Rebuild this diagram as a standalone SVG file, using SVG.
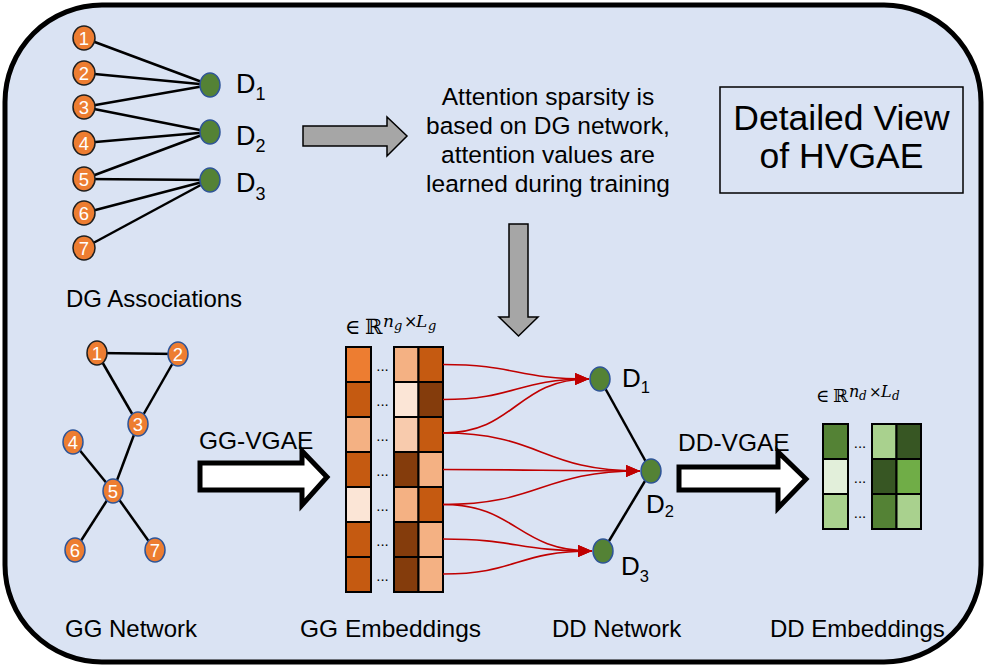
<svg xmlns="http://www.w3.org/2000/svg" width="985" height="666" viewBox="0 0 985 666">
<defs>
<style>
.t{font-family:"Liberation Sans",Arial,sans-serif;fill:#000}
.lbl{font-size:24px}
.num{font-family:"Liberation Sans",Arial,sans-serif;font-size:18.5px;fill:#fff;text-anchor:middle}
.on{fill:#ed7d31;stroke:#1f1f1f;stroke-width:1.5}
.ob{fill:#ed7d31;stroke:#2f5597;stroke-width:1.5}
.gn{fill:#548235;stroke:#2f5597;stroke-width:1.5}
.e{stroke:#000;stroke-width:2.5;fill:none}
.cell{stroke:#000;stroke-width:2}
.dots{font-family:"Liberation Sans",Arial,sans-serif;font-size:15px;fill:#000;text-anchor:middle}
.red{stroke:#c00000;stroke-width:1.6;fill:none;marker-end:url(#ah)}
.math{font-family:"DejaVu Serif",serif;fill:#000}
.it{font-family:"DejaVu Serif",serif;font-style:italic}
.up{font-family:"DejaVu Serif",serif;font-style:normal}
</style>
<marker id="ah" markerUnits="userSpaceOnUse" markerWidth="14" markerHeight="12" refX="14" refY="6" orient="auto">
<path d="M0,0 L14,6 L0,12 z" fill="#c00000"/>
</marker>
</defs>

<rect id="frame" x="5" y="5" width="976" height="657" rx="97" ry="97" fill="#dae3f3" stroke="#000" stroke-width="5"/>

<g id="dg-associations">
<g class="edges">
<line class="e" x1="84" y1="38" x2="210" y2="85"/>
<line class="e" x1="84" y1="73" x2="210" y2="85"/>
<line class="e" x1="84" y1="107" x2="210" y2="85"/>
<line class="e" x1="84" y1="107" x2="210" y2="132"/>
<line class="e" x1="84" y1="143" x2="210" y2="132"/>
<line class="e" x1="84" y1="179" x2="210" y2="132"/>
<line class="e" x1="84" y1="179" x2="210" y2="180"/>
<line class="e" x1="84" y1="213" x2="210" y2="180"/>
<line class="e" x1="84" y1="248" x2="210" y2="180"/>
</g>
<g id="dg-g1"><ellipse class="on" cx="84" cy="38" rx="11" ry="12"/><text class="num" x="84" y="44.5">1</text></g>
<g id="dg-g2"><ellipse class="on" cx="84" cy="73" rx="11" ry="12"/><text class="num" x="84" y="79.5">2</text></g>
<g id="dg-g3"><ellipse class="on" cx="84" cy="107" rx="11" ry="12"/><text class="num" x="84" y="113.5">3</text></g>
<g id="dg-g4"><ellipse class="on" cx="84" cy="143" rx="11" ry="12"/><text class="num" x="84" y="149.5">4</text></g>
<g id="dg-g5"><ellipse class="on" cx="84" cy="179" rx="11" ry="12"/><text class="num" x="84" y="185.5">5</text></g>
<g id="dg-g6"><ellipse class="on" cx="84" cy="213" rx="11" ry="12"/><text class="num" x="84" y="219.5">6</text></g>
<g id="dg-g7"><ellipse class="on" cx="84" cy="248" rx="11" ry="12"/><text class="num" x="84" y="254.5">7</text></g>
<g id="dg-d1"><ellipse class="gn" cx="210" cy="85" rx="10" ry="12"/><text class="t" x="236" y="93" font-size="27">D<tspan font-size="18" dy="7">1</tspan></text></g>
<g id="dg-d2"><ellipse class="gn" cx="210" cy="132" rx="10" ry="12"/><text class="t" x="236" y="145" font-size="27">D<tspan font-size="18" dy="7">2</tspan></text></g>
<g id="dg-d3"><ellipse class="gn" cx="210" cy="180" rx="10" ry="12"/><text class="t" x="236" y="192" font-size="27">D<tspan font-size="18" dy="8">3</tspan></text></g>
<text class="t lbl" x="66" y="307">DG Associations</text>
</g>

<g id="attention-note">
<polygon points="303,126 387,126 387,117 407,136 387,156 387,146 303,146" fill="#a6a6a6" stroke="#000" stroke-width="1.5"/>
<text class="t" font-size="24.5" text-anchor="middle"><tspan x="548" y="105">Attention sparsity is</tspan><tspan x="548" y="134">based on DG network,</tspan><tspan x="548" y="163">attention values are</tspan><tspan x="548" y="192">learned during training</tspan></text>
<polygon points="509,224 528,224 528,317 538,317 518.5,336 499,317 509,317" fill="#a6a6a6" stroke="#000" stroke-width="1.5"/>
</g>

<g id="title-box">
<rect x="720" y="87" width="243" height="106" fill="none" stroke="#000" stroke-width="1.5"/>
<text class="t" font-size="35.5" text-anchor="middle"><tspan x="841.5" y="130">Detailed View</tspan><tspan x="841.5" y="168">of HVGAE</tspan></text>
</g>

<g id="gg-network">
<g class="edges">
<line class="e" x1="97" y1="353" x2="178" y2="354"/>
<line class="e" x1="97" y1="353" x2="138" y2="424"/>
<line class="e" x1="178" y1="354" x2="138" y2="424"/>
<line class="e" x1="138" y1="424" x2="113" y2="491"/>
<line class="e" x1="73" y1="442" x2="113" y2="491"/>
<line class="e" x1="113" y1="491" x2="75" y2="550"/>
<line class="e" x1="113" y1="491" x2="155" y2="550"/>
</g>
<g id="gg-1"><ellipse class="on" cx="97" cy="353" rx="10" ry="12"/><text class="num" x="97" y="359.5">1</text></g>
<g id="gg-2"><ellipse class="ob" cx="178" cy="354" rx="10" ry="12"/><text class="num" x="178" y="360.5">2</text></g>
<g id="gg-3"><ellipse class="ob" cx="138" cy="424" rx="10" ry="12"/><text class="num" x="138" y="430.5">3</text></g>
<g id="gg-4"><ellipse class="ob" cx="73" cy="442" rx="10" ry="12"/><text class="num" x="73" y="448.5">4</text></g>
<g id="gg-5"><ellipse class="ob" cx="113" cy="491" rx="10" ry="12"/><text class="num" x="113" y="497.5">5</text></g>
<g id="gg-6"><ellipse class="ob" cx="75" cy="550" rx="10" ry="12"/><text class="num" x="75" y="556.5">6</text></g>
<g id="gg-7"><ellipse class="ob" cx="155" cy="550" rx="10" ry="12"/><text class="num" x="155" y="556.5">7</text></g>
<text class="t lbl" x="65" y="637">GG Network</text>
</g>

<g id="gg-vgae">
<polygon points="200,463 302,463 302,451 327,477 302,505 302,490 200,490" fill="#fff" stroke="#000" stroke-width="5"/>
<text class="t" x="199" y="449" font-size="24.5">GG-VGAE</text>
</g>

<g id="gg-embeddings">
<text class="math" font-size="21"><tspan x="345" y="334">∈</tspan><tspan x="365" y="334">ℝ</tspan><tspan class="it" font-size="17" x="383" y="327">n</tspan><tspan class="it" font-size="13" x="394" y="330">g</tspan><tspan class="up" font-size="16" x="404" y="327">×</tspan><tspan class="it" font-size="17" x="416" y="327">L</tspan><tspan class="it" font-size="13" x="428" y="330">g</tspan></text>
<g id="gg-col1">
<rect class="cell" x="346" y="347" width="25" height="35" fill="#ed7d31"/>
<rect class="cell" x="346" y="382" width="25" height="35" fill="#c55a11"/>
<rect class="cell" x="346" y="417" width="25" height="35" fill="#f4b183"/>
<rect class="cell" x="346" y="452" width="25" height="35" fill="#c55a11"/>
<rect class="cell" x="346" y="487" width="25" height="35" fill="#fbe5d6"/>
<rect class="cell" x="346" y="522" width="25" height="35" fill="#c55a11"/>
<rect class="cell" x="346" y="557" width="25" height="35" fill="#c55a11"/>
</g>
<g id="gg-col2">
<rect class="cell" x="394" y="347" width="24.5" height="35" fill="#f4b183"/>
<rect class="cell" x="394" y="382" width="24.5" height="35" fill="#fbe5d6"/>
<rect class="cell" x="394" y="417" width="24.5" height="35" fill="#f8cbad"/>
<rect class="cell" x="394" y="452" width="24.5" height="35" fill="#843c0c"/>
<rect class="cell" x="394" y="487" width="24.5" height="35" fill="#f4b183"/>
<rect class="cell" x="394" y="522" width="24.5" height="35" fill="#843c0c"/>
<rect class="cell" x="394" y="557" width="24.5" height="35" fill="#843c0c"/>
</g>
<g id="gg-col3">
<rect class="cell" x="418.5" y="347" width="24.5" height="35" fill="#c55a11"/>
<rect class="cell" x="418.5" y="382" width="24.5" height="35" fill="#843c0c"/>
<rect class="cell" x="418.5" y="417" width="24.5" height="35" fill="#c55a11"/>
<rect class="cell" x="418.5" y="452" width="24.5" height="35" fill="#f4b183"/>
<rect class="cell" x="418.5" y="487" width="24.5" height="35" fill="#c55a11"/>
<rect class="cell" x="418.5" y="522" width="24.5" height="35" fill="#f4b183"/>
<rect class="cell" x="418.5" y="557" width="24.5" height="35" fill="#f4b183"/>
</g>
<g id="gg-dots">
<text class="dots" x="382.5" y="371">...</text>
<text class="dots" x="382.5" y="406">...</text>
<text class="dots" x="382.5" y="441">...</text>
<text class="dots" x="382.5" y="476">...</text>
<text class="dots" x="382.5" y="511">...</text>
<text class="dots" x="382.5" y="546">...</text>
<text class="dots" x="382.5" y="581">...</text>
</g>
<text class="t" x="300" y="637" font-size="24.5">GG Embeddings</text>
</g>

<g id="attention-connectors">
<path class="red" d="M443,364.5 C516,364.5 516,379 589,379"/>
<path class="red" d="M443,399.5 C516,399.5 516,379 589,379"/>
<path class="red" d="M443,433 C516,433 516,379 589,379"/>
<path class="red" d="M443,433 C541,433 541,471 640,471"/>
<path class="red" d="M443,469.5 C541,469.5 541,471 640,471"/>
<path class="red" d="M443,504.5 C541,504.5 541,471 640,471"/>
<path class="red" d="M443,504.5 C517,504.5 517,551 592,551"/>
<path class="red" d="M443,539 C517,539 517,551 592,551"/>
<path class="red" d="M443,574 C517,574 517,551 592,551"/>
</g>

<g id="dd-network">
<g class="edges">
<line class="e" x1="600" y1="379" x2="651" y2="471"/>
<line class="e" x1="651" y1="471" x2="603" y2="551"/>
</g>
<g id="dd-d1"><ellipse class="gn" cx="600" cy="379" rx="10" ry="12"/><text class="t" x="622" y="387" font-size="26">D<tspan font-size="16.5" dy="6">1</tspan></text></g>
<g id="dd-d2"><ellipse class="gn" cx="651" cy="471" rx="10" ry="12"/><text class="t" x="646" y="513" font-size="26">D<tspan font-size="16.5" dy="4">2</tspan></text></g>
<g id="dd-d3"><ellipse class="gn" cx="603" cy="551" rx="10" ry="12"/><text class="t" x="621" y="575" font-size="26">D<tspan font-size="16.5" dy="7">3</tspan></text></g>
<text class="t lbl" x="552" y="637">DD Network</text>
</g>

<g id="dd-vgae">
<polygon points="679,467 778,467 778,452 806,479 778,508 778,490 679,490" fill="#fff" stroke="#000" stroke-width="5"/>
<text class="t" x="678" y="451" font-size="24.5">DD-VGAE</text>
</g>

<g id="dd-embeddings">
<text class="math" font-size="18"><tspan x="816" y="402">∈</tspan><tspan x="833" y="402">ℝ</tspan><tspan class="it" font-size="16" x="849" y="397">n</tspan><tspan class="it" font-size="12" x="859" y="400">d</tspan><tspan class="up" font-size="15" x="869" y="397">×</tspan><tspan class="it" font-size="16" x="881" y="397">L</tspan><tspan class="it" font-size="12" x="892" y="400">d</tspan></text>
<rect class="cell" x="823" y="424" width="25" height="35" fill="#548235"/>
<rect class="cell" x="823" y="459" width="25" height="35" fill="#e2efda"/>
<rect class="cell" x="823" y="494" width="25" height="35" fill="#a9d18e"/>
<rect class="cell" x="872" y="424" width="24.5" height="35" fill="#a9d18e"/>
<rect class="cell" x="872" y="459" width="24.5" height="35" fill="#375623"/>
<rect class="cell" x="872" y="494" width="24.5" height="35" fill="#548235"/>
<rect class="cell" x="896.5" y="424" width="24.5" height="35" fill="#375623"/>
<rect class="cell" x="896.5" y="459" width="24.5" height="35" fill="#70ad47"/>
<rect class="cell" x="896.5" y="494" width="24.5" height="35" fill="#a9d18e"/>
<text class="dots" x="860" y="448">...</text>
<text class="dots" x="860" y="483">...</text>
<text class="dots" x="860" y="518">...</text>
<text class="t lbl" x="770" y="637">DD Embeddings</text>
</g>
</svg>
